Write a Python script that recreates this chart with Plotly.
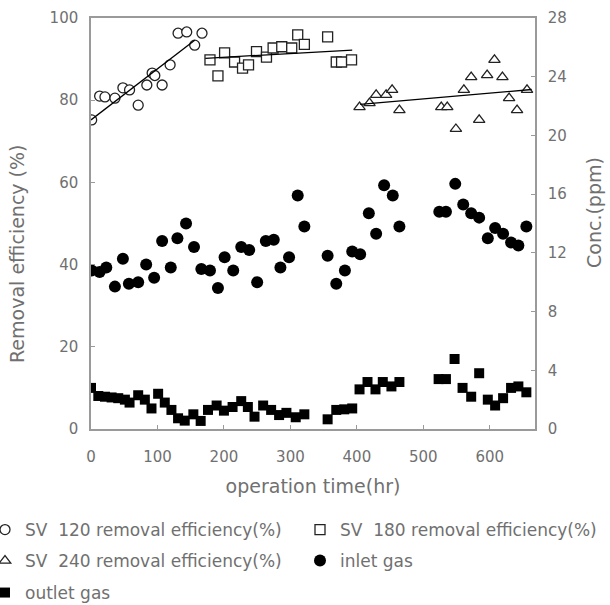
import plotly.graph_objects as go

# ---------------- data ----------------
sv120_t = [1, 13, 21, 36, 48, 58, 71, 84, 92, 96, 107, 119, 131, 144, 156, 167]
sv120_e = [75.2, 81.0, 80.8, 80.5, 83.0, 82.5, 78.8, 83.7, 86.6, 86.0, 83.7, 88.6, 96.3, 96.6, 93.4, 96.3]
sv120_fit_t = [0, 156]
sv120_fit_e = [75.2, 94.6]

sv180_t = [179, 191, 201, 216, 228, 237, 249, 264, 274, 287, 302, 311, 321, 356, 369, 377, 392]
sv180_e = [89.8, 85.9, 91.5, 89.3, 87.8, 88.6, 91.8, 90.5, 92.7, 93.0, 92.7, 95.9, 93.6, 95.4, 89.3, 89.3, 89.8]
sv180_fit_t = [172, 393]
sv180_fit_e = [90.2, 92.2]

sv240_t = [404, 419, 429, 444, 453, 464, 527, 536, 549, 561, 572, 584, 596, 607, 619, 629, 641, 656]
sv240_e = [78.3, 79.3, 81.3, 81.3, 82.5, 77.6, 78.3, 78.3, 73.0, 82.5, 85.6, 75.2, 86.1, 89.8, 85.6, 80.5, 77.6, 82.5]
sv240_fit_t = [405, 663]
sv240_fit_e = [79.0, 82.6]

inlet_t = [1, 13, 23, 36, 48, 57, 71, 83, 95, 107, 120, 130, 143, 155, 166, 179, 191, 201, 214,
           226, 238, 250, 263, 275, 285, 298, 311, 321, 356, 369, 382, 393, 405, 418, 429, 441,
           454, 464, 524, 534, 548, 560, 572, 584, 597, 608, 620, 632, 643, 655]
inlet_c = [10.8, 10.7, 11.0, 9.7, 11.6, 9.9, 10.0, 11.2, 10.3, 12.8, 11.0, 13.0, 14.0, 12.4, 10.9,
           10.8, 9.6, 11.7, 10.8, 12.4, 12.2, 10.0, 12.8, 12.9, 11.0, 11.7, 15.9, 13.8, 11.8, 9.9,
           10.8, 12.1, 11.9, 14.7, 13.3, 16.6, 15.9, 13.8, 14.8, 14.8, 16.7, 15.3, 14.7, 14.4,
           13.0, 13.7, 13.3, 12.7, 12.5, 13.8]

outlet_t = [0, 11, 21, 31, 41, 51, 58, 71, 81, 91, 101, 111, 121, 131, 141, 154, 165, 176, 189,
            200, 213, 226, 236, 246, 259, 271, 283, 294, 308, 321, 356, 369, 381, 393, 404, 416,
            428, 439, 452, 464, 523, 534, 547, 559, 572, 584, 597, 608, 620, 632, 643, 655]
outlet_c = [2.8, 2.25, 2.2, 2.15, 2.1, 2.0, 1.8, 2.3, 2.0, 1.4, 2.4, 1.8, 1.3, 0.73, 0.57, 1.0,
            0.55, 1.3, 1.6, 1.25, 1.5, 1.9, 1.5, 0.84, 1.6, 1.3, 0.95, 1.1, 0.8, 1.0, 0.66, 1.3,
            1.34, 1.4, 2.7, 3.2, 2.7, 3.2, 2.9, 3.2, 3.4, 3.4, 4.77, 2.8, 2.2, 3.8, 2.0, 1.6,
            2.1, 2.8, 2.9, 2.5]

names = ["SV\u00a0 120 removal efficiency(%)", "SV\u00a0 180 removal efficiency(%)",
         "SV\u00a0 240 removal efficiency(%)", "inlet gas", "outlet gas"]
x_title = "operation time(hr)"
y_title = "Removal efficiency (%)"
y2_title = "Conc.(ppm)"

# ---------------- style ----------------
FONT = "DejaVu Sans"
TXT = "#707070"
AX = "#9a9a9a"
MK = "#222222"

fig = go.Figure()

def open_marker(symbol):
    return dict(symbol=symbol, size=10, color="white", line=dict(color=MK, width=1.3))

fig.add_trace(go.Scatter(x=sv120_t, y=sv120_e, mode="markers", name=names[0],
                         marker=open_marker("circle"), legend="legend"))
fig.add_trace(go.Scatter(x=sv180_t, y=sv180_e, mode="markers", name=names[1],
                         marker=open_marker("square"), legend="legend2"))
fig.add_trace(go.Scatter(x=sv240_t, y=sv240_e, mode="markers", name=names[2],
                         marker=open_marker("triangle-up"), legend="legend3"))
fig.add_trace(go.Scatter(x=inlet_t, y=inlet_c, mode="markers", name=names[3], yaxis="y2",
                         marker=dict(symbol="circle", size=12, color="black"), legend="legend4"))
fig.add_trace(go.Scatter(x=outlet_t, y=outlet_c, mode="markers", name=names[4], yaxis="y2",
                         marker=dict(symbol="square", size=10, color="black"), legend="legend5"))

for ft, fe in [(sv120_fit_t, sv120_fit_e), (sv180_fit_t, sv180_fit_e), (sv240_fit_t, sv240_fit_e)]:
    fig.add_trace(go.Scatter(x=ft, y=fe, mode="lines", showlegend=False,
                             line=dict(color="black", width=1.3), hoverinfo="skip"))

axis_common = dict(showline=True, linecolor=AX, linewidth=1.5, ticks="inside", ticklen=4,
                   tickcolor=AX, showgrid=False, zeroline=False, automargin=False,
                   tickfont=dict(family=FONT, size=15, color=TXT))

legend_common = dict(orientation="h", xanchor="left", yanchor="top", bgcolor="rgba(0,0,0,0)",
                     font=dict(family=FONT, size=17, color=TXT), itemwidth=30)

PW, PH, L, T = 444, 411, 91, 18
def lx(px):
    return (px - L) / PW
def ly(py):
    return (T + PH - py) / PH

TFONT = dict(family=FONT, size=19, color=TXT)

fig.update_layout(
    width=610, height=605,
    margin=dict(l=L, r=610 - L - PW, t=T, b=605 - T - PH, autoexpand=False),
    paper_bgcolor="white", plot_bgcolor="white",
    xaxis=dict(range=[0, 668], dtick=100, mirror=True, ticklabelstandoff=13,
               title=dict(text=x_title, font=TFONT, standoff=15),
               **axis_common),
    yaxis=dict(range=[0, 100], dtick=20, ticklabelstandoff=8, **axis_common),
    yaxis2=dict(range=[0, 28], dtick=4, overlaying="y", side="right", ticklabelstandoff=8,
                **axis_common),
    annotations=[
        dict(text=y_title, textangle=-90, xref="paper", yref="paper", x=lx(17), y=ly(254),
             xanchor="center", yanchor="middle", showarrow=False, font=TFONT),
        dict(text=y2_title, textangle=-90, xref="paper", yref="paper", x=lx(594), y=ly(213),
             xanchor="center", yanchor="middle", showarrow=False, font=TFONT),
    ],
    legend=dict(x=lx(-15), y=ly(512), **legend_common),
    legend2=dict(x=lx(300), y=ly(512), **legend_common),
    legend3=dict(x=lx(-15), y=ly(543), **legend_common),
    legend4=dict(x=lx(300), y=ly(543), **legend_common),
    legend5=dict(x=lx(-15), y=ly(575), **legend_common),
)

fig.write_html("out.html")
